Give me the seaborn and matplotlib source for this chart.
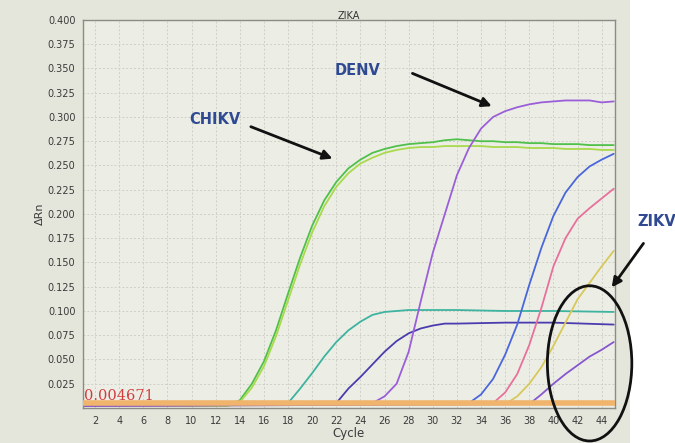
import numpy as np
import pandas as pd
import matplotlib.pyplot as plt
from matplotlib.patches import Ellipse, Rectangle
import seaborn as sns

# Amplification curves (cycle, delta Rn)
chikv1_cycles = [1, 13, 14, 15, 16, 17, 18, 19, 20, 21, 22, 23, 24, 25, 26, 27, 28, 29, 30,
                 31, 32, 33, 34, 35, 36, 37, 38, 39, 40, 41, 42, 43, 44, 45]
chikv1_rn = [0.002, 0.003, 0.008, 0.025, 0.048, 0.080, 0.118, 0.155, 0.188, 0.214, 0.233,
             0.247, 0.256, 0.263, 0.267, 0.270, 0.272, 0.273, 0.274, 0.276, 0.277, 0.276,
             0.275, 0.275, 0.274, 0.274, 0.273, 0.273, 0.272, 0.272, 0.272, 0.271, 0.271, 0.271]

chikv2_cycles = chikv1_cycles
chikv2_rn = [0.002, 0.002, 0.006, 0.021, 0.043, 0.074, 0.111, 0.148, 0.181, 0.208, 0.228,
             0.242, 0.252, 0.258, 0.263, 0.266, 0.268, 0.269, 0.269, 0.270, 0.270, 0.270,
             0.270, 0.269, 0.269, 0.269, 0.268, 0.268, 0.268, 0.267, 0.267, 0.267, 0.266, 0.266]

teal_cycles = [1, 18, 19, 20, 21, 22, 23, 24, 25, 26, 27, 28, 32, 36, 40, 45]
teal_rn = [0.002, 0.005, 0.020, 0.036, 0.053, 0.068, 0.080, 0.089, 0.096, 0.099, 0.100,
           0.101, 0.101, 0.100, 0.100, 0.099]

indigo_cycles = [1, 22, 23, 24, 25, 26, 27, 28, 29, 30, 31, 32, 36, 40, 45]
indigo_rn = [0.002, 0.005, 0.020, 0.032, 0.045, 0.058, 0.069, 0.077, 0.082, 0.085, 0.087,
             0.087, 0.088, 0.088, 0.086]

denv_cycles = [1, 25, 26, 27, 28, 29, 30, 31, 32, 33, 34, 35, 36, 37, 38, 39, 40, 41, 42,
               43, 44, 45]
denv_rn = [0.002, 0.005, 0.012, 0.025, 0.058, 0.110, 0.160, 0.200, 0.240, 0.268, 0.288,
           0.300, 0.306, 0.310, 0.313, 0.315, 0.316, 0.317, 0.317, 0.317, 0.315, 0.316]

blue_cycles = [1, 33, 34, 35, 36, 37, 38, 39, 40, 41, 42, 43, 44, 45]
blue_rn = [0.002, 0.005, 0.014, 0.030, 0.055, 0.086, 0.127, 0.165, 0.198, 0.222, 0.238,
           0.249, 0.256, 0.262]

pink_cycles = [1, 35, 36, 37, 38, 39, 40, 41, 42, 43, 44, 45]
pink_rn = [0.002, 0.005, 0.016, 0.035, 0.065, 0.103, 0.146, 0.175, 0.195, 0.206, 0.216, 0.226]

yellow_cycles = [1, 36, 37, 38, 39, 40, 41, 42, 43, 44, 45]
yellow_rn = [0.002, 0.004, 0.012, 0.025, 0.042, 0.064, 0.088, 0.112, 0.129, 0.146, 0.162]

zikv_cycles = [1, 38, 39, 40, 41, 42, 43, 44, 45]
zikv_rn = [0.002, 0.004, 0.014, 0.025, 0.035, 0.044, 0.053, 0.060, 0.068]

threshold = 0.004671

curves = [
    (chikv1_cycles, chikv1_rn, '#4fc04a'),
    (chikv2_cycles, chikv2_rn, '#a9d94c'),
    (teal_cycles, teal_rn, '#3db3a0'),
    (indigo_cycles, indigo_rn, '#4a3cae'),
    (denv_cycles, denv_rn, '#9a5fd8'),
    (blue_cycles, blue_rn, '#4a66dc'),
    (pink_cycles, pink_rn, '#e8709c'),
    (yellow_cycles, yellow_rn, '#d8c85a'),
    (zikv_cycles, zikv_rn, '#8656cf'),
]

sns.set_style('whitegrid')
plt.rcParams['font.family'] = ['DejaVu Sans']

fig = plt.figure(figsize=(6.75, 4.43), dpi=100, facecolor='#e4e6db')
# white strip at the right edge of the photo
fig.patches.append(Rectangle((0.933, 0), 0.067, 1, transform=fig.transFigure,
                             facecolor='white', edgecolor='none', zorder=-10))
ax = fig.add_axes([0.123, 0.079, 0.788, 0.876])
ax.set_facecolor('#eceee5')

for cyc, rn, col in curves:
    sns.lineplot(x=cyc, y=rn, color=col, linewidth=1.3, ax=ax)

# threshold line
ax.axhline(threshold, color='#f1b46c', linewidth=4, zorder=5)
ax.text(1.05, threshold + 0.001, '0.004671', color='#d23c3c', fontsize=10.5,
        family='DejaVu Serif', va='bottom', ha='left', zorder=6)

ax.set_xlim(1, 45.1)
ax.set_ylim(0, 0.4)
ax.set_xticks(range(2, 46, 2))
ax.set_yticks(np.arange(0.025, 0.401, 0.025))
ax.yaxis.set_major_formatter(plt.FuncFormatter(lambda v, p: f'{v:.3f}'))
ax.tick_params(labelsize=7, colors='#3a3a3a', length=2)
ax.grid(True, color='#cfd1c8', linestyle=(0, (2, 2)), linewidth=0.7)
for s in ax.spines.values():
    s.set_color('#8a8c86')
    s.set_linewidth(1)

ax.set_title('ZIKA', fontsize=7, color='#333333', pad=1)
ax.set_xlabel('Cycle', fontsize=8.5, color='#3a3a3a', labelpad=1)
ax.set_ylabel('ΔRn', fontsize=8, color='#3a3a3a', labelpad=2)

# annotations
lab = dict(color='#2f4a92', fontsize=10.5, fontweight='bold', ha='center', va='center')
arr = dict(arrowstyle='-|>', color='#111111', lw=2, mutation_scale=14)
ax.text(11.9, 0.297, 'CHIKV', **lab)
ax.annotate('', xy=(21.9, 0.256), xytext=(14.7, 0.291), arrowprops=arr)
ax.text(23.8, 0.348, 'DENV', **lab)
ax.annotate('', xy=(35.1, 0.310), xytext=(28.1, 0.346), arrowprops=arr)
ax.text(48.6, 0.192, 'ZIKV', clip_on=False, zorder=8, **lab)
ax.annotate('', xy=(44.7, 0.122), xytext=(47.6, 0.172), arrowprops=arr,
            annotation_clip=False, zorder=8)
ax.add_patch(Ellipse((43.0, 0.046), 7.0, 0.16, fill=False, edgecolor='#111111',
                     linewidth=2, clip_on=False, zorder=7))

fig.savefig('out.png', dpi=100, facecolor=fig.get_facecolor())
